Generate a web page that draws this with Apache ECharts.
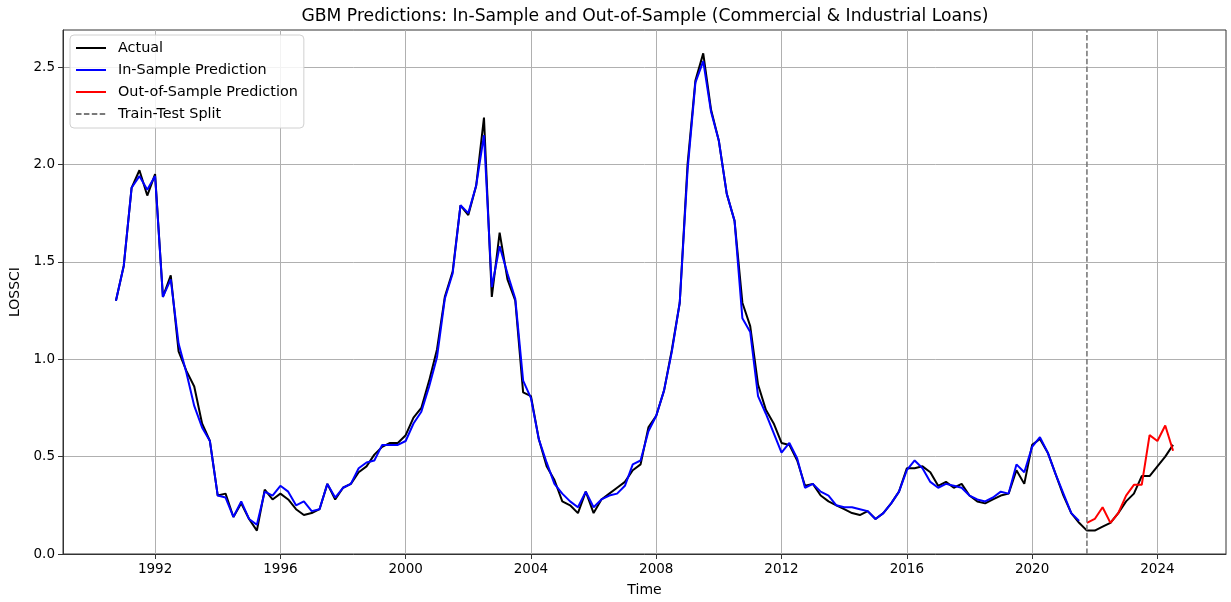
<!DOCTYPE html>
<html>
<head>
<meta charset="utf-8">
<script src="https://cdn.jsdelivr.net/npm/echarts@6/dist/echarts.min.js"></script>
<style>
  html, body { margin: 0; padding: 0; background: #fff; }
  #chart { width: 1231px; height: 602px; }
</style>
</head>
<body>
<div id="chart"></div>
<script>
// Quarterly series, first observation 1990 Q4
const firstQuarter = 1990.75;
const quarterStep = 0.25;
const splitQuarter = 2021.75;

const yearTicks = [1992, 1996, 2000, 2004, 2008, 2012, 2016, 2020, 2024];
const lossTicks = [0, 0.5, 1.0, 1.5, 2.0, 2.5];

// Actual LOSSCI, 1990 Q4 – 2024 Q3
const actual = [
  1.30, 1.48, 1.88, 1.97, 1.84, 1.95, 1.32, 1.43, 1.04, 0.94,
  0.86, 0.67, 0.58, 0.30, 0.31, 0.19, 0.26, 0.18, 0.12, 0.33,
  0.28, 0.31, 0.28, 0.23, 0.20, 0.21, 0.23, 0.36, 0.28, 0.34,
  0.36, 0.42, 0.45, 0.51, 0.55, 0.57, 0.57, 0.61, 0.70, 0.75,
  0.89, 1.05, 1.32, 1.45, 1.79, 1.74, 1.89, 2.24, 1.32, 1.65,
  1.41, 1.30, 0.83, 0.81, 0.59, 0.45, 0.38, 0.27, 0.25, 0.21,
  0.32, 0.21, 0.28, 0.31, 0.34, 0.37, 0.43, 0.46, 0.65, 0.71,
  0.84, 1.05, 1.29, 2.00, 2.43, 2.57, 2.28, 2.12, 1.85, 1.71,
  1.29, 1.17, 0.87, 0.74, 0.67, 0.57, 0.56, 0.48, 0.35, 0.36,
  0.30, 0.27, 0.25, 0.23, 0.21, 0.20, 0.22, 0.18, 0.21, 0.26,
  0.32, 0.44, 0.44, 0.45, 0.42, 0.35, 0.37, 0.34, 0.36, 0.30,
  0.27, 0.26, 0.28, 0.30, 0.31, 0.43, 0.36, 0.56, 0.59, 0.52,
  0.41, 0.30, 0.21, 0.16, 0.12, 0.12, 0.14, 0.16, 0.21, 0.27,
  0.31, 0.40, 0.40, 0.45, 0.50, 0.56
];

// GBM fit on the training quarters, 1990 Q4 – 2021 Q3
const inSample = [
  1.30, 1.48, 1.88, 1.94, 1.87, 1.94, 1.32, 1.41, 1.08, 0.93,
  0.76, 0.65, 0.58, 0.30, 0.29, 0.19, 0.27, 0.18, 0.15, 0.32,
  0.30, 0.35, 0.32, 0.25, 0.27, 0.22, 0.23, 0.36, 0.29, 0.34,
  0.36, 0.44, 0.47, 0.48, 0.56, 0.56, 0.56, 0.58, 0.67, 0.73,
  0.86, 1.01, 1.31, 1.44, 1.79, 1.75, 1.89, 2.15, 1.37, 1.58,
  1.44, 1.31, 0.89, 0.80, 0.59, 0.47, 0.36, 0.31, 0.27, 0.24,
  0.32, 0.24, 0.28, 0.30, 0.31, 0.35, 0.46, 0.48, 0.63, 0.71,
  0.84, 1.04, 1.29, 1.97, 2.42, 2.53, 2.27, 2.12, 1.85, 1.71,
  1.21, 1.14, 0.81, 0.72, 0.62, 0.52, 0.57, 0.49, 0.34, 0.36,
  0.32, 0.30, 0.25, 0.24, 0.24, 0.23, 0.22, 0.18, 0.21, 0.26,
  0.32, 0.43, 0.48, 0.44, 0.37, 0.34, 0.36, 0.35, 0.34, 0.30,
  0.28, 0.27, 0.29, 0.32, 0.31, 0.46, 0.42, 0.55, 0.60, 0.52,
  0.41, 0.31, 0.21, 0.17
];

// GBM predictions on the test quarters, 2021 Q4 – 2024 Q3
const outOfSample = [
  0.16, 0.18, 0.24, 0.16, 0.21, 0.30, 0.355, 0.355, 0.61, 0.58,
  0.66, 0.53
];

const quarterOf = (i) => firstQuarter + i * quarterStep;
const testStart = actual.length - outOfSample.length;

const actualData = actual.map((v, i) => [quarterOf(i), v]);
const inSampleData = inSample.map((v, i) => [quarterOf(i), v]);
const outOfSampleData = outOfSample.map((v, i) => [quarterOf(testStart + i), v]);

const xMin = 1989.06, xMax = 2026.19;
const yMin = 0, yMax = 2.69;

const FONT = 'DejaVu Sans';
const SPINE = '#333';

const chart = echarts.init(document.getElementById('chart'), null, { renderer: 'canvas' });

chart.setOption({
  animation: false,
  backgroundColor: '#ffffff',
  textStyle: { fontFamily: FONT, color: '#000' },
  title: {
    text: 'GBM Predictions: In-Sample and Out-of-Sample (Commercial & Industrial Loans)',
    left: 640,
    textAlign: 'center',
    top: 3,
    textStyle: { fontFamily: FONT, fontSize: 17.2, fontWeight: 'normal', color: '#000' }
  },
  grid: {
    left: 63, right: 5, top: 30, bottom: 47,
    show: true, borderColor: SPINE, borderWidth: 1, backgroundColor: 'transparent'
  },
  legend: {
    orient: 'vertical',
    left: 70, top: 35,
    padding: [6, 6, 7, 5],
    itemWidth: 30, itemHeight: 14, itemGap: 8,
    backgroundColor: 'rgba(255,255,255,0.85)',
    borderColor: '#d0d0d0', borderWidth: 1, borderRadius: 4,
    // only the line sample is shown in each entry
    itemStyle: { opacity: 0, color: 'transparent', borderColor: 'transparent', borderWidth: 0 },
    textStyle: { fontFamily: FONT, fontSize: 14.4, color: '#000', padding: [0, 0, 0, 7] },
    data: ['Actual', 'In-Sample Prediction', 'Out-of-Sample Prediction', 'Train-Test Split']
  },
  xAxis: {
    type: 'value',
    min: xMin, max: xMax,
    name: 'Time',
    nameLocation: 'middle',
    nameGap: 29,
    nameTextStyle: { fontFamily: FONT, fontSize: 14, color: '#000' },
    axisLine: { show: true, lineStyle: { color: SPINE, width: 1 } },
    axisTick: { show: true, length: 5, customValues: yearTicks, lineStyle: { color: SPINE } },
    axisLabel: {
      customValues: yearTicks, margin: 8,
      fontFamily: FONT, fontSize: 13.5, color: '#000',
      formatter: (v) => String(Math.round(v))
    },
    splitLine: { show: true, lineStyle: { color: '#b0b0b0', width: 1 } }
  },
  yAxis: {
    type: 'value',
    min: yMin, max: yMax,
    name: 'LOSSCI',
    nameLocation: 'middle',
    nameGap: 40,
    nameTextStyle: { fontFamily: FONT, fontSize: 14, color: '#000' },
    axisLine: { show: true, lineStyle: { color: SPINE, width: 1 } },
    axisTick: { show: true, length: 5, customValues: lossTicks, lineStyle: { color: SPINE } },
    axisLabel: {
      customValues: lossTicks, margin: 8,
      fontFamily: FONT, fontSize: 13.5, color: '#000',
      formatter: (v) => v.toFixed(1)
    },
    splitLine: { show: true, lineStyle: { color: '#b0b0b0', width: 1 } }
  },
  series: [
    {
      name: 'Actual', type: 'line', data: actualData,
      showSymbol: false, symbol: 'none',
      lineStyle: { color: '#000000', width: 2 }, itemStyle: { color: '#000000' }, z: 2
    },
    {
      name: 'In-Sample Prediction', type: 'line', data: inSampleData,
      showSymbol: false, symbol: 'none',
      lineStyle: { color: '#0000ff', width: 2 }, itemStyle: { color: '#0000ff' }, z: 3
    },
    {
      name: 'Out-of-Sample Prediction', type: 'line', data: outOfSampleData,
      showSymbol: false, symbol: 'none',
      lineStyle: { color: '#ff0000', width: 2 }, itemStyle: { color: '#ff0000' }, z: 4
    },
    {
      name: 'Train-Test Split', type: 'line',
      data: [[splitQuarter, yMin], [splitQuarter, yMax]],
      showSymbol: false, symbol: 'none',
      lineStyle: { color: '#7a7a7a', width: 1.6, type: [5.5, 2.4] },
      itemStyle: { color: '#7a7a7a' }, z: 5
    }
  ]
});
</script>
</body>
</html>
